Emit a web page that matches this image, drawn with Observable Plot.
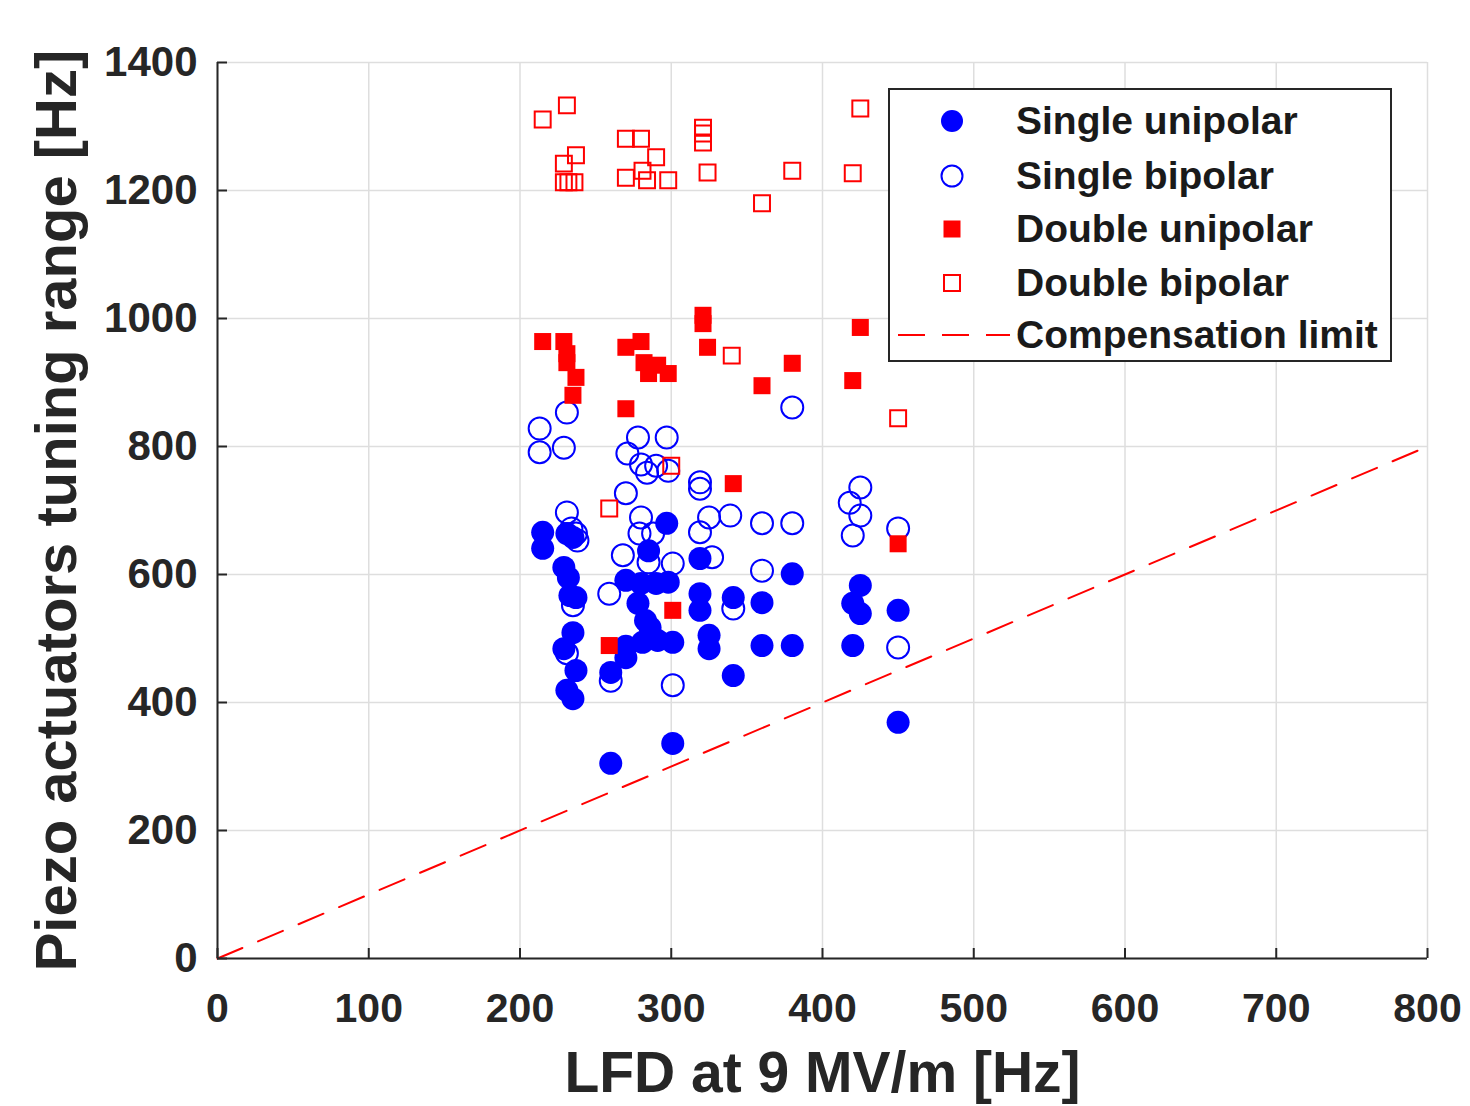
<!DOCTYPE html>
<html><head><meta charset="utf-8">
<script src="https://cdn.jsdelivr.net/npm/d3@7"></script>
<script src="https://cdn.jsdelivr.net/npm/@observablehq/plot@0.6"></script>
<style>
html,body{margin:0;padding:0;background:#fff;}
#wrap{position:relative;width:1470px;height:1106px;font-family:"Liberation Sans",Arial,sans-serif;font-weight:bold;color:#262626;}
#legend{position:absolute;left:888px;top:88px;width:500px;height:270px;border:2px solid #262626;background:#fff;}
.row{position:absolute;left:0;width:100%;height:50px;}
.row svg{position:absolute;left:0;top:0;}
.row span{position:absolute;left:126px;top:0;line-height:50px;font-size:39px;white-space:nowrap;color:#1a1a1a;}
</style></head>
<body><div id="wrap"></div>
<script>
// ---- data ----
const xTicks = [0,100,200,300,400,500,600,700,800];
const yTicks = [0,200,400,600,800,1000,1200,1400];
const xLabel = "LFD at 9 MV/m [Hz]";
const yLabel = "Piezo actuators tuning range [Hz]";
const seriesNames = ["Single unipolar","Single bipolar","Double unipolar","Double bipolar","Compensation limit"];

const singleUnipolarX = [215,215,231,235,229,232,233,237,235,229,237,231,235,260,260,270,270,270,280,290,298,278,283,286,297,285,281,291,301,301,319,319,319,325,325,341,341,360,360,380,380,420,420,425,425,450,450];
const singleUnipolarY = [666,641,664,658,611,595,567,564,509,484,450,419,406,447,305,591,488,470,586,586,588,555,528,517,680,637,494,497,494,336,625,570,544,505,484,564,442,556,489,601,489,555,489,583,539,544,369];

const singleBipolarX = [213,213,229,231,231,234,237,238,235,231,259,260,270,271,280,279,288,268,285,301,278,297,280,290,284,298,301,319,319,325,339,319,327,341,360,380,380,360,425,418,425,420,450,450];
const singleBipolarY = [828,791,798,853,697,672,664,653,552,477,570,434,727,789,689,664,664,630,619,617,814,814,772,770,759,762,427,744,734,689,692,666,627,547,680,680,861,606,736,712,692,661,672,486];

const doubleUnipolarX = [215,229,231,231,237,235,270,280,282,285,291,298,270,321,321,324,341,360,380,420,425,450,301,259];
const doubleUnipolarY = [964,964,945,931,908,880,955,964,931,914,927,914,859,1005,992,955,742,895,930,903,986,648,544,489];

const doubleBipolarX = [215,231,229,237,229,232,236,270,280,290,281,270,284,298,321,321,321,324,425,380,420,360,340,450,259,300];
const doubleBipolarY = [1311,1333,1242,1255,1213,1213,1213,1281,1281,1252,1231,1220,1216,1216,1298,1289,1275,1228,1328,1231,1227,1180,942,844,703,770];

const limitX = [0,800]; // compensation limit: tuning range = LFD

const zip = (xs, ys) => xs.map((x, i) => ({x, y: ys[i]}));
const su = zip(singleUnipolarX, singleUnipolarY);
const sb = zip(singleBipolarX, singleBipolarY);
const du = zip(doubleUnipolarX, doubleUnipolarY);
const db = zip(doubleBipolarX, doubleBipolarY);
const limit = limitX.map(x => ({x, y: x}));

const BLUE = "#0000ff", RED = "#ff0000", INK = "#262626", GRID = "#dedede";
const fmt = d => String(d);

const chart = Plot.plot({
  width: 1470, height: 1106,
  marginLeft: 217, marginRight: 43, marginTop: 62, marginBottom: 148,
  style: {fontFamily: '"Liberation Sans", Arial, sans-serif', fontWeight: "bold", color: INK, background: "transparent", overflow: "visible"},
  x: {domain: [0, 800]},
  y: {domain: [0, 1400]},
  marks: [
    Plot.gridX(xTicks, {stroke: GRID, strokeOpacity: 1, strokeWidth: 1.5}),
    Plot.gridY(yTicks, {stroke: GRID, strokeOpacity: 1, strokeWidth: 1.5}),
    Plot.line(limit, {x: "x", y: "y", stroke: RED, strokeWidth: 2, strokeDasharray: "27,17"}),
    Plot.dot(su, {x: "x", y: "y", r: 11.5, fill: BLUE, stroke: "none"}),
    Plot.dot(sb, {x: "x", y: "y", r: 11, fill: "none", stroke: BLUE, strokeWidth: 2}),
    Plot.dot(du, {x: "x", y: "y", r: 9.6, symbol: "square", fill: RED, stroke: "none"}),
    Plot.dot(db, {x: "x", y: "y", r: 9, symbol: "square", fill: "none", stroke: RED, strokeWidth: 2}),
    Plot.ruleX([0], {stroke: INK, strokeWidth: 2}),
    Plot.ruleY([0], {stroke: INK, strokeWidth: 2}),
    Plot.tickX(xTicks, {x: d => d, stroke: INK, strokeWidth: 2, insetTop: 886}),
    Plot.tickY(yTicks, {y: d => d, stroke: INK, strokeWidth: 2, insetRight: 1200}),
    Plot.axisX({ticks: xTicks, tickFormat: fmt, tickSize: 0, tickPadding: 34, fontSize: 41, label: null, fill: INK}),
    Plot.axisY({ticks: yTicks, tickFormat: fmt, tickSize: 0, tickPadding: 20, fontSize: 42, label: null, fill: INK}),
    Plot.text([xLabel], {frameAnchor: "bottom", dy: 115, fontSize: 57, fill: INK, lineAnchor: "middle", textAnchor: "middle"}),
    Plot.text([yLabel], {frameAnchor: "left", dx: -160, rotate: -90, fontSize: 58, fill: INK, lineAnchor: "middle", textAnchor: "middle"})
  ]
});
const wrap = document.getElementById("wrap");
wrap.appendChild(chart);

// ---- legend ----
const legend = document.createElement("div");
legend.id = "legend";
wrap.appendChild(legend);
const rowCenters = [31, 86, 139, 193, 245];
const kinds = ["su", "sb", "du", "db", "line"];
seriesNames.forEach((name, i) => {
  const row = document.createElement("div");
  row.className = "row";
  row.style.top = (rowCenters[i] - 25) + "px";
  const svg = d3.create("svg").attr("width", 124).attr("height", 50);
  const cx = 62, cy = 25;
  const k = kinds[i];
  if (k === "su") svg.append("circle").attr("cx", cx).attr("cy", cy).attr("r", 11).attr("fill", BLUE);
  if (k === "sb") svg.append("circle").attr("cx", cx).attr("cy", cy).attr("r", 10.5).attr("fill", "none").attr("stroke", BLUE).attr("stroke-width", 2);
  if (k === "du") svg.append("rect").attr("x", cx - 8.5).attr("y", cy - 8.5).attr("width", 17).attr("height", 17).attr("fill", RED);
  if (k === "db") svg.append("rect").attr("x", cx - 8).attr("y", cy - 8).attr("width", 16).attr("height", 16).attr("fill", "none").attr("stroke", RED).attr("stroke-width", 2);
  if (k === "line") svg.append("line").attr("x1", 8).attr("x2", 120).attr("y1", cy).attr("y2", cy).attr("stroke", RED).attr("stroke-width", 2).attr("stroke-dasharray", "27,17");
  row.appendChild(svg.node());
  const span = document.createElement("span");
  span.textContent = name;
  row.appendChild(span);
  legend.appendChild(row);
});
</script>
</body></html>
